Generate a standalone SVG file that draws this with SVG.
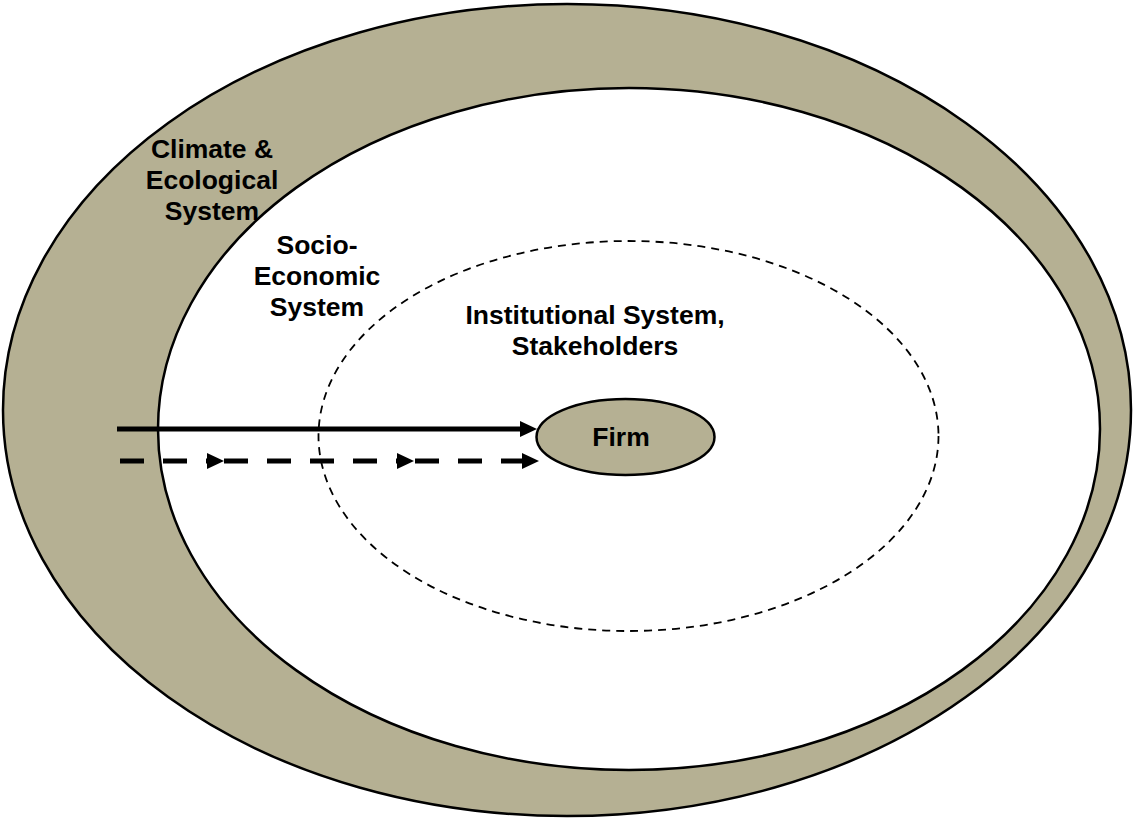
<svg xmlns="http://www.w3.org/2000/svg" width="1134" height="819" viewBox="0 0 1134 819">
<style>
.band{fill:#B5B093;stroke:#000;stroke-width:2.5}
.white{fill:#fff;stroke:#000;stroke-width:2.5}
.dash{fill:none;stroke:#000;stroke-width:1.8;stroke-dasharray:8 6}
.lbl{font-family:"Liberation Sans",Arial,sans-serif;font-weight:bold;font-size:26.5px;fill:#000;text-anchor:middle}
.conn{stroke:#000;stroke-width:5;fill:none}
.dashed{stroke-dasharray:24 19}
</style>
<defs>
<marker id="ah" markerUnits="userSpaceOnUse" markerWidth="18" markerHeight="18" refX="0" refY="9" orient="auto" overflow="visible">
<path d="M0,1 L17,9 L0,17 Z" fill="#000"/>
</marker>
</defs>
<g id="climate">
<ellipse class="band" cx="567" cy="410" rx="564" ry="406"/>
<text class="lbl" x="212" y="158">Climate &amp;</text>
<text class="lbl" x="212" y="189">Ecological</text>
<text class="lbl" x="212" y="220">System</text>
</g>
<g id="socio">
<ellipse class="white" cx="629" cy="429" rx="471" ry="341"/>
<text class="lbl" x="317" y="254">Socio-</text>
<text class="lbl" x="317" y="285">Economic</text>
<text class="lbl" x="317" y="316">System</text>
</g>
<g id="institutional">
<ellipse class="dash" cx="628.5" cy="436" rx="310" ry="195"/>
<text class="lbl" x="595" y="324">Institutional System,</text>
<text class="lbl" x="595" y="355">Stakeholders</text>
</g>
<g id="firm">
<ellipse class="band" cx="625.5" cy="437" rx="89" ry="38"/>
<text class="lbl" x="621" y="446">Firm</text>
</g>
<g id="connectors">
<path class="conn" d="M117,429 H520" marker-end="url(#ah)"/>
<path class="conn dashed" d="M120,461 H207" marker-end="url(#ah)"/>
<path class="conn dashed" d="M224,461 H397" marker-end="url(#ah)"/>
<path class="conn dashed" d="M415,461 H522" marker-end="url(#ah)"/>
</g>
</svg>
